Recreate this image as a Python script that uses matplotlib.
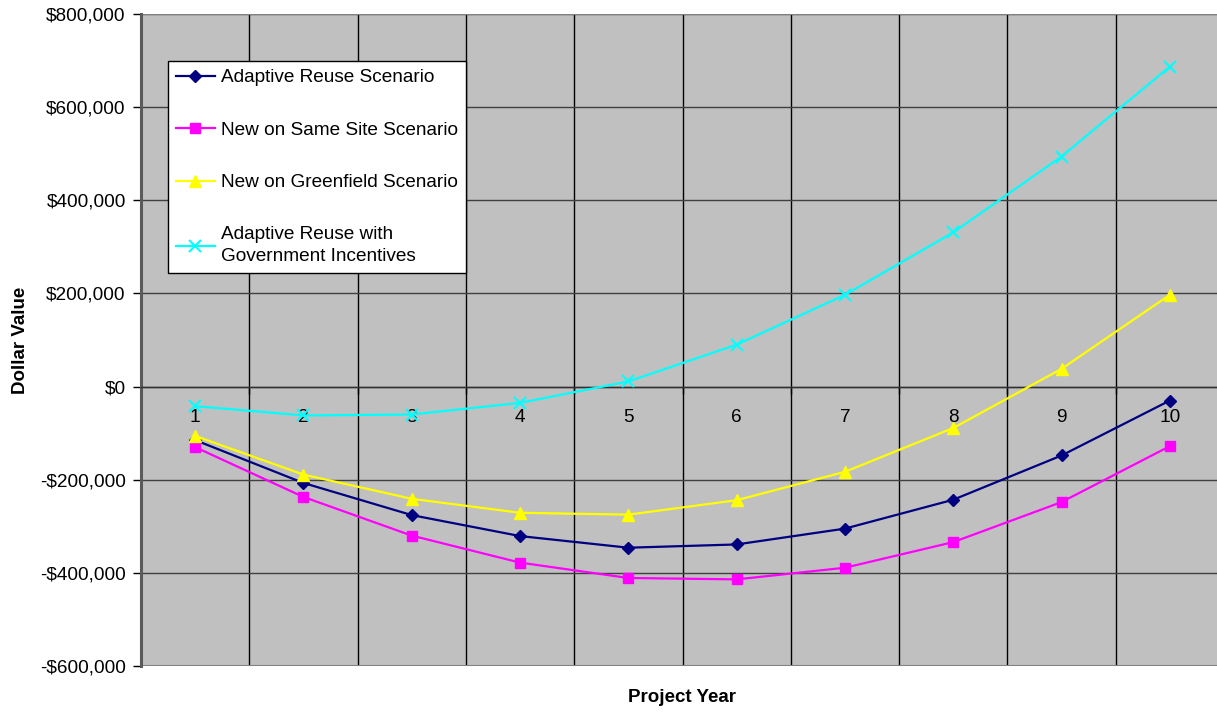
import matplotlib
matplotlib.use("Agg")
import matplotlib.pyplot as plt
from matplotlib.ticker import FuncFormatter, FixedLocator

plt.rcParams['font.family'] = ['Liberation Sans', 'DejaVu Sans']

# Project years and cumulative dollar value of each scenario
years = [1, 2, 3, 4, 5, 6, 7, 8, 9, 10]
adaptive_reuse = [-115000, -207000, -276000, -321000, -346000, -339000, -305000, -243000, -148000, -30000]
new_same_site = [-130000, -237000, -320000, -378000, -411000, -414000, -389000, -334000, -248000, -128000]
new_greenfield = [-106000, -189000, -241000, -271000, -275000, -244000, -183000, -89000, 38000, 197000]
reuse_incentives = [-42000, -62000, -60000, -35000, 11000, 90000, 197000, 331000, 494000, 687000]

series_labels = [
    "Adaptive Reuse Scenario",
    "New on Same Site Scenario",
    "New on Greenfield Scenario",
    "Adaptive Reuse with\nGovernment Incentives",
]
y_ticks = [-600000, -400000, -200000, 0, 200000, 400000, 600000, 800000]

W, H = 1217, 713
fig = plt.figure(figsize=(W / 100, H / 100), dpi=100)
left, right, top, bottom = 141, 1224, 14, 666
ax = fig.add_axes([left / W, 1 - bottom / H, (right - left) / W, (bottom - top) / H])
ax.set_facecolor('#C0C0C0')

styles = [
    dict(color='#000080', marker='D', markersize=6.5),
    dict(color='#FF00FF', marker='s', markersize=7.5),
    dict(color='#FFFF00', marker='^', markersize=8.5),
    dict(color='#00FFFF', marker='x', markersize=8, markeredgewidth=1.5),
]
for vals, lab, st in zip([adaptive_reuse, new_same_site, new_greenfield, reuse_incentives],
                         series_labels, styles):
    ax.plot(years, vals, label=lab, linewidth=1.6, zorder=3, **st)

ax.set_xlim(0.5, 10.5)
ax.set_ylim(-600000, 800000)

# y axis: dollar ticks
ax.yaxis.set_major_locator(FixedLocator(y_ticks))
ax.yaxis.set_major_formatter(FuncFormatter(
    lambda v, p: ('-' if v < 0 else '') + '${:,.0f}'.format(abs(v))))
ax.tick_params(axis='y', which='major', direction='out', length=6, width=1,
               color='black', pad=5, labelsize=13.7)

# x axis crosses at zero; category labels centred, ticks at category edges
ax.spines['bottom'].set_position(('data', 0))
ax.spines['bottom'].set_color('#303030')
ax.spines['bottom'].set_linewidth(1.0)
ax.set_xticks(years)
ax.set_xticklabels([str(y) for y in years])
ax.set_xticks([y + 0.5 for y in [0] + years], minor=True)
ax.tick_params(axis='x', which='major', length=0, pad=16, labelsize=13.7)
ax.tick_params(axis='x', which='minor', direction='out', length=5, width=1, color='black')

# grid
ax.grid(True, axis='y', which='major', color='#404040', linewidth=1.0, zorder=1)
ax.grid(True, axis='x', which='minor', color='black', linewidth=1.0, zorder=1)
ax.set_axisbelow(True)

# plot frame
ax.spines['left'].set_color('#5a5a5a')
ax.spines['left'].set_linewidth(2.2)
ax.spines['top'].set_visible(False)
ax.spines['right'].set_visible(False)
ax.axhline(800000, color='#808080', linewidth=1.5, zorder=2)
ax.axhline(-600000, color='#808080', linewidth=1.5, zorder=2)

ax.set_ylabel("Dollar Value", fontsize=13.5, fontweight='bold')
ax.yaxis.set_label_coords(-0.103, 0.5)
ax.set_xlabel("Project Year", fontsize=13.5, fontweight='bold')
ax.xaxis.set_label_coords(0.5, -0.035)

leg = ax.legend(loc='upper left', bbox_to_anchor=(0.0249, 0.928), borderaxespad=0,
                fontsize=13.7, frameon=True, fancybox=False, edgecolor='black',
                facecolor='white', framealpha=1, handlelength=2.05, handletextpad=0.3,
                labelspacing=1.85, borderpad=0.42)
for t in leg.get_texts():
    t.set_linespacing(1.35)
leg.get_frame().set_linewidth(1.0)

fig.savefig("out.png", dpi=100)
